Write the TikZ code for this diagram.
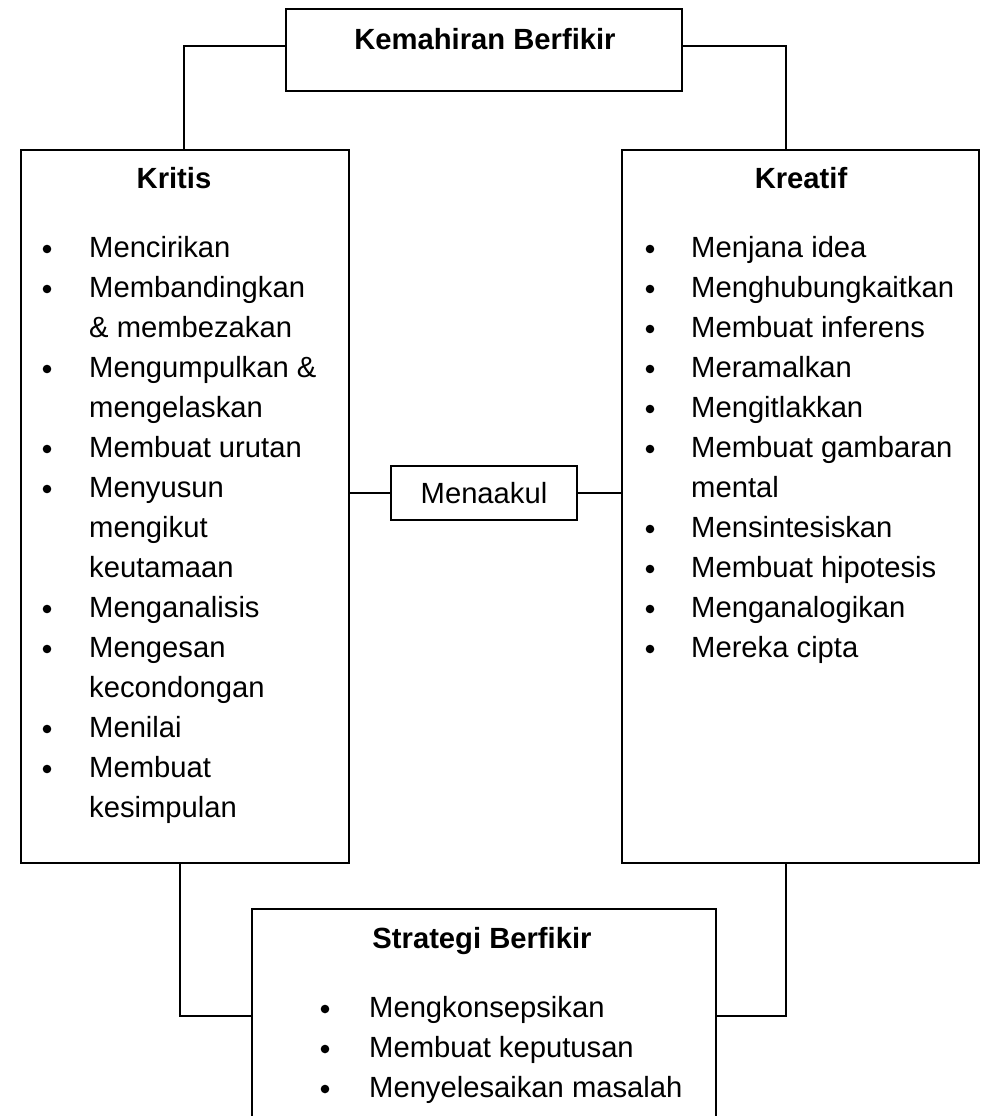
\documentclass[tikz,border=0pt]{standalone}
\usepackage{fontspec}
\setmainfont{Liberation Sans}
\tikzset{
	kotak/.style={draw, line width=1.6pt, inner sep=0pt},
	garis/.style={line width=1.6pt},
	tulisan/.style={font=\fontsize{29.2}{40}\selectfont, inner sep=0pt, anchor=base west},
	tajuk/.style={font=\fontsize{29.2}{40}\selectfont\bfseries, inner sep=0pt, anchor=base}
}

\begin{document}
\begin{tikzpicture}[x=1pt, y=-1pt]
			%%%%% START %%%%%
			\clip (0,0) rectangle (980,1116);
			
			\node[kotak, minimum width=396pt, minimum height=82pt] (kemahiran) at (484,50) {};
			\node[kotak, minimum width=328pt, minimum height=713pt] (kritis) at (185,506.5) {};
			\node[kotak, minimum width=357pt, minimum height=713pt] (kreatif) at (800.5,506.5) {};
			\node[kotak, minimum width=186pt, minimum height=54pt, font=\fontsize{29.2}{40}\selectfont] (menaakul) at (484,493) {Menaakul};
			\node[kotak, minimum width=464pt, minimum height=214pt] (strategi) at (484,1016) {};
			
			\node[tajuk] (t-kemahiran) at (485,49) {Kemahiran Berfikir};
			\node[tajuk] (t-kritis) at (174,188) {Kritis};
			\node[tajuk] (t-kreatif) at (801,188) {Kreatif};
			\node[tajuk] (t-strategi) at (482,948) {Strategi Berfikir};
			
			% kemahiran ke kritis dan kreatif
			\draw[garis] ([yshift=4pt]kemahiran.west) -| ([xshift=-1pt]kritis.north);
			\draw[garis] ([yshift=4pt]kemahiran.east) -| ([xshift=-14.5pt]kreatif.north);
			
			% menaakul
			\draw[garis] (kritis.east |- menaakul.west) -- (menaakul.west);
			\draw[garis] (menaakul.east) -- (menaakul.east -| kreatif.west);
			
			% ke strategi
			\draw[garis] ([xshift=-5pt]kritis.south) |- (strategi.west);
			\draw[garis] ([xshift=-14.5pt]kreatif.south) |- (strategi.east);
			
			% senarai kritis
			\foreach \b/\teks [count=\i] in {1/Mencirikan, 1/Membandingkan, 0/\& membezakan,
				1/Mengumpulkan \&, 0/mengelaskan, 1/Membuat urutan, 1/Menyusun, 0/mengikut,
				0/keutamaan, 1/Menganalisis, 1/Mengesan, 0/kecondongan, 1/Menilai,
				1/Membuat, 0/kesimpulan}{
				\node[tulisan] (kr\i) at (89,217+40*\i) {\teks};
				\ifnum\b=1 \fill (47,209+40*\i) circle (4.3); \fi
			}
			
			% senarai kreatif
			\foreach \b/\teks [count=\i] in {1/Menjana idea, 1/Menghubungkaitkan, 1/Membuat inferens,
				1/Meramalkan, 1/Mengitlakkan, 1/Membuat gambaran, 0/mental, 1/Mensintesiskan,
				1/Membuat hipotesis, 1/Menganalogikan, 1/Mereka cipta}{
				\node[tulisan] (ke\i) at (691,217+40*\i) {\teks};
				\ifnum\b=1 \fill (650,209+40*\i) circle (4.3); \fi
			}
			
			% senarai strategi
			\foreach \teks [count=\i] in {Mengkonsepsikan, Membuat keputusan, Menyelesaikan masalah}{
				\node[tulisan] (st\i) at (369,977+40*\i) {\teks};
				\fill (325,969+40*\i) circle (4.3);
			}
			
			%%%%% END %%%%%
\end{tikzpicture}
\end{document}
